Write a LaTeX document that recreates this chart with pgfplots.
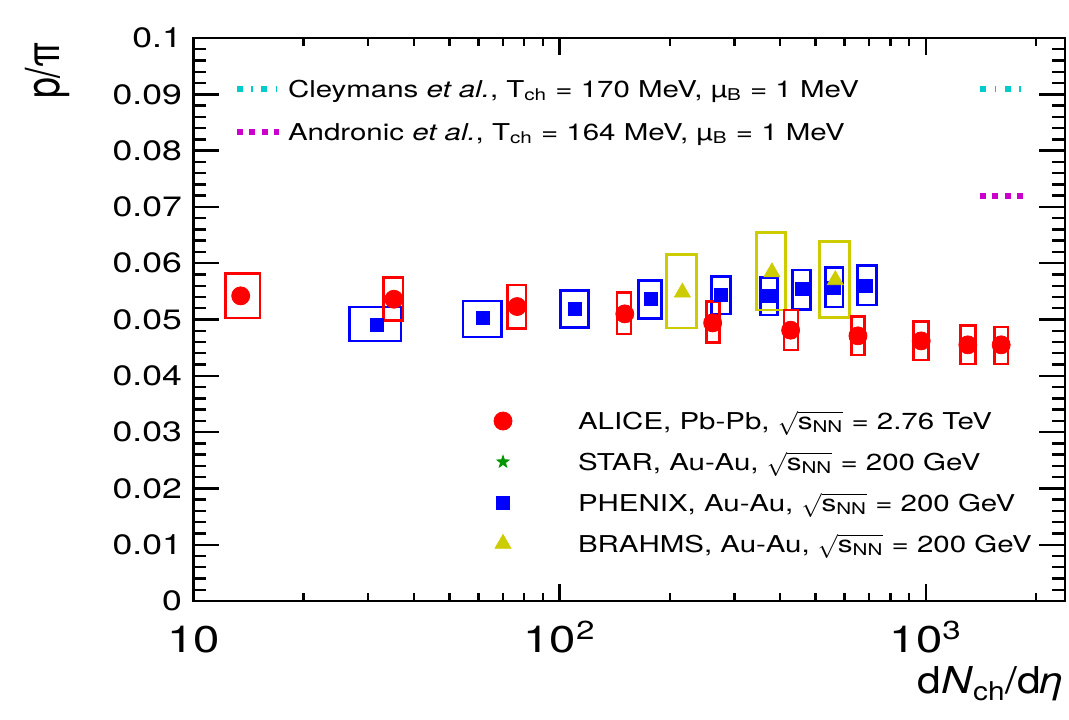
\documentclass[border=0pt]{standalone}
\usepackage{fontspec}
\setmainfont{TeX Gyre Heros}[FakeStretch=1.27]
\newfontfamily\labfont{TeX Gyre Heros}[FakeStretch=1.15]
\newfontfamily\plainfont{TeX Gyre Heros}
\usepackage{graphicx}
\usepackage{pgfplots}
\pgfplotsset{compat=1.18}
\definecolor{rred}{RGB}{255,0,0}
\definecolor{rblue}{RGB}{0,0,255}
\definecolor{ryel}{RGB}{204,204,0}
\definecolor{rgreen}{RGB}{0,150,0}
\definecolor{rcyan}{RGB}{0,204,204}
\definecolor{rmag}{RGB}{204,0,204}
\pgfdeclareplotmark{fstar}{%
 \pgfpathmoveto{\pgfpointpolar{90}{\pgfplotmarksize}}%
 \pgfpathlineto{\pgfpointpolar{126}{0.4\pgfplotmarksize}}%
 \pgfpathlineto{\pgfpointpolar{162}{\pgfplotmarksize}}%
 \pgfpathlineto{\pgfpointpolar{198}{0.4\pgfplotmarksize}}%
 \pgfpathlineto{\pgfpointpolar{234}{\pgfplotmarksize}}%
 \pgfpathlineto{\pgfpointpolar{270}{0.4\pgfplotmarksize}}%
 \pgfpathlineto{\pgfpointpolar{306}{\pgfplotmarksize}}%
 \pgfpathlineto{\pgfpointpolar{342}{0.4\pgfplotmarksize}}%
 \pgfpathlineto{\pgfpointpolar{18}{\pgfplotmarksize}}%
 \pgfpathlineto{\pgfpointpolar{54}{0.4\pgfplotmarksize}}%
 \pgfpathclose\pgfusepathqfillstroke}
\newcommand{\snn}{$\sqrt{\hbox{s\textsubscript{NN}}}$}
\begin{document}
\begin{tikzpicture}
\begin{axis}[
  at={(0pt,0pt)}, anchor=south west,
  scale only axis, width=435.9pt, height=281.5pt,
  xmode=log, xmin=10, xmax=2400, ymin=0, ymax=0.1,
  xtick={10,100,1000},
  xticklabels={10,10\textsuperscript{2},10\textsuperscript{3}},
  minor xtick={20,30,40,50,60,70,80,90,200,300,400,500,600,700,800,900,2000},
  ytick={0,0.01,0.02,0.03,0.04,0.05,0.06,0.07,0.08,0.09,0.1},
  yticklabels={0,0.01,0.02,0.03,0.04,0.05,0.06,0.07,0.08,0.09,0.1},
  minor y tick num=4,
  tick align=inside,
  tick style={black, line width=1.2pt},
  xtick style={/pgfplots/major tick length=8.3pt, /pgfplots/minor tick length=4.2pt},
  ytick style={/pgfplots/major tick length=13pt, /pgfplots/minor tick length=6.5pt},
  axis line style={line width=1.3pt},
  yticklabel style={font=\fontsize{14}{16}\selectfont, inner sep=0pt, anchor=east, xshift=-5.5pt},
  xticklabel style={font=\fontsize{18.6}{20}\selectfont, inner sep=0pt, anchor=base, yshift=-25.5pt},
  xlabel={d\textit{N}\textsubscript{ch}/d\textit{η}},
  xlabel style={at={(axis description cs:1,0)}, anchor=base east, yshift=-46.2pt, inner sep=0pt, font=\labfont\fontsize{18.5}{20}\selectfont},
  ylabel={\scalebox{1}[1.25]{p/π}},
  ylabel style={at={(axis description cs:0,1)}, anchor=east, xshift=-2pt, yshift=73.15pt, inner sep=0pt, font=\plainfont\fontsize{18.8}{20}\selectfont},
  unbounded coords=jump,
  legend image code/.code={\path[#1] plot coordinates {(0pt,0.65pt)}; \path[draw=none,fill=none] (-6pt,0pt) -- (37.5pt,0pt);},
  legend style={draw=none, fill=none, at={(axis description cs:0.34148,0.3405)}, anchor=north west,
    inner sep=0pt, outer sep=0pt, row sep=7.45pt, column sep=0pt,
    font=\fontsize{11.6}{13}\selectfont,
    nodes={inner sep=0pt, text height=10pt, text depth=3pt}},
  legend cell align=left,
]
% systematic boxes
\addplot[rblue, line width=1.3pt, line cap=rect, forget plot] coordinates {
(26.7,0.0462)(36.9,0.0462)(36.9,0.0522)(26.7,0.0522)(26.7,0.0462)(26.7,nan)
(54.5,0.0469)(69.4,0.0469)(69.4,0.0533)(54.5,0.0533)(54.5,0.0469)(54.5,nan)
(100.6,0.0486)(120.1,0.0486)(120.1,0.0551)(100.6,0.0551)(100.6,0.0486)(100.6,nan)
(164.5,0.0502)(190,0.0502)(190,0.0569)(164.5,0.0569)(164.5,0.0502)(164.5,nan)
(259.7,0.0510)(292.7,0.0510)(292.7,0.0576)(259.7,0.0576)(259.7,0.0510)(259.7,nan)
(354,0.0508)(394,0.0508)(394,0.0575)(354,0.0575)(354,0.0508)(354,nan)
(432.8,0.0518)(484.6,0.0518)(484.6,0.0588)(432.8,0.0588)(432.8,0.0518)(432.8,nan)
(531.6,0.0522)(593.6,0.0522)(593.6,0.0592)(531.6,0.0592)(531.6,0.0522)(531.6,nan)
(649.8,0.0526)(732.2,0.0526)(732.2,0.0596)(649.8,0.0596)(649.8,0.0526)
};
\addplot[ryel, line width=1.3pt, line cap=rect, forget plot] coordinates {
(196.1,0.0485)(236.8,0.0485)(236.8,0.0615)(196.1,0.0615)(196.1,0.0485)(196.1,nan)
(344.5,0.0517)(413.4,0.0517)(413.4,0.0655)(344.5,0.0655)(344.5,0.0517)(344.5,nan)
(512.9,0.0504)(619.2,0.0504)(619.2,0.0639)(512.9,0.0639)(512.9,0.0504)
};
\addplot[rred, line width=1.3pt, line cap=rect, forget plot] coordinates {
(12.26,0.0503)(15.2,0.0503)(15.2,0.0582)(12.26,0.0582)(12.26,0.0503)(12.26,nan)
(33.1,0.0498)(37.4,0.0498)(37.4,0.0575)(33.1,0.0575)(33.1,0.0498)(33.1,nan)
(72.1,0.0484)(80.9,0.0484)(80.9,0.0561)(72.1,0.0561)(72.1,0.0484)(72.1,nan)
(143.5,0.0474)(156.5,0.0474)(156.5,0.0548)(143.5,0.0548)(143.5,0.0474)(143.5,nan)
(251.7,0.0459)(273.5,0.0459)(273.5,0.0532)(251.7,0.0532)(251.7,0.0459)(251.7,nan)
(410,0.0446)(447.5,0.0446)(447.5,0.0517)(410,0.0517)(410,0.0446)(410,nan)
(626,0.0437)(680.5,0.0437)(680.5,0.0505)(626,0.0505)(626,0.0437)(626,nan)
(925.6,0.0428)(1017,0.0428)(1017,0.0496)(925.6,0.0496)(925.6,0.0428)(925.6,nan)
(1241,0.0421)(1364,0.0421)(1364,0.0489)(1241,0.0489)(1241,0.0421)(1241,nan)
(1539,0.0421)(1674,0.0421)(1674,0.0487)(1539,0.0487)(1539,0.0421)
};
% points
\addplot[only marks, mark=square*, rblue, mark size=3.25pt, forget plot] coordinates {
(31.8,0.0491)(61.8,0.0502)(110,0.0519)(177.4,0.0536)(276.5,0.0544)(372.9,0.0542)(458,0.0554)(561,0.0556)(687.9,0.0560)
};
\addplot[only marks, mark=triangle*, ryel, mark size=4.6pt, forget plot] coordinates {
(216.4,0.0548)(380,0.0584)(566,0.0570)
};
\addplot[only marks, mark=*, rred, mark size=4.5pt, forget plot] coordinates {
(13.47,0.0542)(35.3,0.0536)(76.6,0.0523)(150.7,0.0510)(261.8,0.0494)(427.4,0.0481)(652.5,0.0471)(971,0.0462)(1302,0.0455)(1606,0.0455)
};
\addlegendimage{rred, mark=*, mark size=4.5pt}
\addlegendentry{ALICE, Pb-Pb, \snn{} = 2.76 TeV}
\addlegendimage{rgreen, mark=fstar, mark size=3.2pt}
\addlegendentry{STAR, Au-Au, \snn{} = 200 GeV}
\addlegendimage{rblue, mark=square*, mark size=3.25pt}
\addlegendentry{PHENIX, Au-Au, \snn{} = 200 GeV}
\addlegendimage{ryel, mark=triangle*, mark size=4.6pt}
\addlegendentry{BRAHMS, Au-Au, \snn{} = 200 GeV}
\end{axis}
\begin{axis}[
  at={(0pt,0pt)}, anchor=south west,
  scale only axis, width=435.9pt, height=281.5pt,
  xmode=log, xmin=10, xmax=2400, ymin=0, ymax=0.1,
  hide axis,
  legend image code/.code={\draw[#1] (0pt,0.65pt) -- (21pt,0.65pt); \path[draw=none,fill=none] (0pt,0pt) -- (25.5pt,0pt);},
  legend style={draw=none, fill=none, at={(axis description cs:0.04668,0.9302)}, anchor=north west,
    inner sep=0pt, outer sep=0pt, row sep=8.5pt, column sep=0pt,
    font=\fontsize{11.6}{13}\selectfont,
    nodes={inner sep=0pt, text height=10pt, text depth=3pt}},
  legend cell align=left,
]
\addplot[rcyan, line width=3pt, dash pattern=on 3pt off 4.2pt on 0.8pt off 4.2pt] coordinates {(1407,0.091)(1821,0.091)};
\addlegendentry{Cleymans \textit{et al.}, T\textsubscript{ch} = 170 MeV, µ\textsubscript{B} = 1 MeV}
\addplot[rmag, line width=3pt, dash pattern=on 3pt off 3.15pt] coordinates {(1407,0.072)(1839,0.072)};
\addlegendentry{Andronic \textit{et al.}, T\textsubscript{ch} = 164 MeV, µ\textsubscript{B} = 1 MeV}
\end{axis}
\pgfresetboundingbox
\useasboundingbox (-96.65pt,-59pt) rectangle (437.85pt,300.5pt);
\end{tikzpicture}
\end{document}
